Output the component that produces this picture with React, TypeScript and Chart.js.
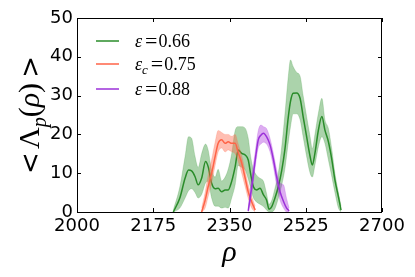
import React, { useEffect, useRef } from 'react';
import { Chart, registerables } from 'chart.js';
Chart.register(...registerables);

// ε = 0.66
const rhoA = [2221, 2236, 2248, 2256, 2263, 2271, 2278, 2286, 2295, 2301, 2309, 2317, 2324, 2332, 2340, 2347, 2355, 2363, 2370, 2378, 2386, 2393, 2399, 2405, 2412, 2420, 2428, 2435, 2441, 2447, 2454, 2462, 2470, 2477, 2485, 2490, 2496, 2504, 2512, 2519, 2527, 2535, 2540, 2546, 2554, 2562, 2569, 2577, 2585, 2592, 2600, 2606];
const meanA = [0, 3.6, 8.7, 10.8, 10.6, 9.1, 7, 8.7, 13, 11.7, 7.4, 6, 6.1, 5.2, 5.7, 5.7, 7.9, 11.7, 16, 15.1, 14.7, 13.4, 9.5, 6.5, 5.7, 6.1, 4.4, 3.1, 0.7, 1.4, 3.5, 6.5, 10.8, 16, 24.5, 28.5, 30.6, 30.7, 29.3, 24.6, 19.4, 14.3, 12.1, 15.1, 21.1, 24.6, 21.1, 18.1, 13.4, 8.2, 3.9, 0.5];
const upperA = [0.5, 6.5, 14.3, 19.4, 19, 14.3, 11.5, 15, 17.5, 16, 10.8, 9, 11, 8, 9, 11, 15, 21, 22, 22, 21.6, 19, 14, 11, 9.5, 8.7, 7.9, 4.8, 2, 3, 6, 10, 17, 25, 35, 39.2, 37.5, 36, 35, 30, 24.6, 19.4, 16.3, 20, 25.5, 29.3, 23.8, 21.5, 16, 10, 5, 1.5];
const lowerA = [0, 1, 3.6, 5.5, 6, 5, 3.6, 4.5, 7.5, 7.9, 3.6, 1.5, 1.5, 1, 1.2, 1, 3.6, 7, 12, 11.5, 10.8, 8.5, 6, 3.6, 2.6, 2, 1.4, 0.5, 0, 0, 0.8, 3.5, 7, 11, 18, 22, 25.3, 25.3, 23.8, 19.4, 14.3, 10, 9, 12, 16.8, 19.4, 17.7, 13.4, 9, 5, 1, 0];

// ε_c = 0.75
const rhoB = [2286, 2294, 2301, 2309, 2317, 2324, 2332, 2340, 2347, 2355, 2363, 2370, 2378, 2386, 2393, 2401, 2409];
const meanB = [0, 3, 6.5, 10, 14.3, 17.7, 18.6, 17.7, 18.1, 17.7, 17.7, 15.3, 12.6, 8.7, 5.2, 2.6, 0.5];
const upperB = [1, 5, 9.5, 13.5, 18, 21, 20.5, 20, 20, 19.5, 20, 17.5, 14.5, 10.5, 7, 4, 1.5];
const lowerB = [0, 1, 4, 7.5, 12, 15.5, 16.5, 15.5, 16, 15.5, 15, 13, 10, 6.5, 3.5, 1, 0];

// ε = 0.88
const rhoC = [2393, 2401, 2409, 2416, 2422, 2428, 2435, 2443, 2451, 2458, 2466, 2474, 2481, 2487];
const meanC = [0.3, 6.5, 13.4, 18.6, 19.8, 20.3, 19.4, 17.3, 13.4, 9.1, 5.2, 2.7, 1, 0.3];
const upperC = [1, 9, 15.5, 21, 22.4, 22, 21.5, 19, 15, 11, 7.5, 7, 3.5, 1];
const lowerC = [0, 4.5, 11.5, 16.5, 17.5, 18, 17.5, 15.5, 11.5, 7, 3, 1, 0, 0];

const xTicks = [2000, 2175, 2350, 2525, 2700];
const yTicks = [0, 10, 20, 30, 40, 50];

const seriesSym = ['ε', 'ε', 'ε'];
const seriesSub = ['', 'c', ''];
const seriesVal = ['0.66', '0.75', '0.88'];
const lineColors = ['#2a8c2a', '#ff6347', '#9b30d9'];
const bandColors = ['rgba(34,139,34,0.38)', 'rgba(255,99,71,0.42)', 'rgba(148,0,211,0.32)'];

const pts = (xs: number[], ys: number[]) => xs.map((x, i) => ({ x, y: ys[i] }));

function group(xs: number[], m: number[], u: number[], l: number[], i: number) {
  return [
    { data: pts(xs, m), borderColor: lineColors[i], borderWidth: 1.5, fill: false, pointRadius: 0, cubicInterpolationMode: 'monotone' },
    { data: pts(xs, u), borderColor: bandColors[i], backgroundColor: bandColors[i], borderWidth: 0.5, fill: '+1', pointRadius: 0, cubicInterpolationMode: 'monotone' },
    { data: pts(xs, l), borderColor: bandColors[i], borderWidth: 0.5, fill: false, pointRadius: 0, cubicInterpolationMode: 'monotone' },
  ];
}

const decor = {
  id: 'decor',
  afterDraw(chart: any) {
    const { ctx, chartArea, scales } = chart;
    const { left, right, top, bottom } = chartArea;
    ctx.save();
    ctx.strokeStyle = '#000';
    ctx.lineWidth = 1;
    ctx.strokeRect(left + 0.5, top + 0.5, right - left - 1, bottom - top);
    ctx.beginPath();
    xTicks.forEach((v) => {
      const p = Math.round(scales.x.getPixelForValue(v)) + 0.5;
      ctx.moveTo(p, bottom); ctx.lineTo(p, bottom - 4);
      ctx.moveTo(p, top); ctx.lineTo(p, top + 4);
    });
    yTicks.forEach((v) => {
      const p = Math.round(scales.y.getPixelForValue(v)) + 0.5;
      ctx.moveTo(left, p); ctx.lineTo(left + 4, p);
      ctx.moveTo(right, p); ctx.lineTo(right - 4, p);
    });
    ctx.stroke();

    // legend
    const ys = [41, 64, 89];
    ctx.textBaseline = 'alphabetic';
    ctx.fillStyle = '#000';
    for (let i = 0; i < 3; i++) {
      ctx.strokeStyle = lineColors[i];
      ctx.lineWidth = 1.5;
      ctx.beginPath();
      ctx.moveTo(96, ys[i]); ctx.lineTo(119, ys[i]);
      ctx.stroke();
      const base = ys[i] + 6;
      let x = 135;
      ctx.font = 'italic 18px "Liberation Serif"';
      ctx.fillText(seriesSym[i], x, base);
      x += ctx.measureText(seriesSym[i]).width;
      if (seriesSub[i]) {
        ctx.font = 'italic 13px "Liberation Serif"';
        ctx.fillText(seriesSub[i], x, base + 4);
        x += ctx.measureText(seriesSub[i]).width;
      }
      x += 3;
      ctx.font = '22px "Liberation Serif"';
      ctx.fillText('=', x, base + 1);
      x += ctx.measureText('=').width + 1;
      ctx.font = '18px "Liberation Serif"';
      ctx.fillText(seriesVal[i], x, base);
    }

    // y title
    const parts: [string, string, number][] = [
      ['<', '26px "DejaVu Sans"', 0],
      [' ', '10px "DejaVu Sans"', 0],
      ['Λ', '30px "Liberation Serif"', 0],
      ['p', 'italic 20px "Liberation Serif"', 7],
      ['(', '30px "Liberation Serif"', 0],
      ['ρ', 'italic 30px "Liberation Serif"', 0],
      [')', '30px "Liberation Serif"', 0],
      [' ', '16px "DejaVu Sans"', 0],
      ['>', '26px "DejaVu Sans"', 0],
    ];
    let total = 0;
    const widths = parts.map(([t, f]) => { ctx.font = f; const w = ctx.measureText(t).width; total += w; return w; });
    ctx.save();
    ctx.translate(29, (top + bottom) / 2);
    ctx.rotate(-Math.PI / 2);
    ctx.textBaseline = 'alphabetic';
    let cx = -total / 2;
    parts.forEach(([t, f, dy], i) => {
      ctx.font = f;
      ctx.fillText(t, cx, 10 + dy);
      cx += widths[i];
    });
    ctx.restore();

    // x title
    ctx.font = 'italic 30px "Liberation Serif"';
    ctx.textAlign = 'center';
    ctx.textBaseline = 'alphabetic';
    ctx.fillText('ρ', (left + right) / 2, 261);
    ctx.restore();
  },
};

export default function App() {
  const ref = useRef<HTMLCanvasElement>(null);
  useEffect(() => {
    document.body.style.margin = '0';
    const chart = new Chart(ref.current!, {
      type: 'line',
      data: {
        datasets: [
          ...group(rhoC, meanC, upperC, lowerC, 2),
          ...group(rhoB, meanB, upperB, lowerB, 1),
          ...group(rhoA, meanA, upperA, lowerA, 0),
        ] as any,
      },
      options: {
        animation: false,
        responsive: false,
        maintainAspectRatio: false,
        layout: { padding: { top: 18, right: 33, left: 0, bottom: 0 } },
        plugins: { legend: { display: false }, tooltip: { enabled: false } },
        scales: {
          x: {
            type: 'linear', min: 2000, max: 2700,
            afterBuildTicks: (s: any) => { s.ticks = xTicks.map((v) => ({ value: v })); },
            afterFit: (s: any) => { s.height = 65; },
            ticks: { autoSkip: false, maxRotation: 0, padding: 4, color: '#000', font: { family: 'DejaVu Sans', size: 18 }, callback: (v: any) => String(v) },
            grid: { display: false, drawTicks: false },
            border: { display: false },
          },
          y: {
            type: 'linear', min: 0, max: 50,
            afterBuildTicks: (s: any) => { s.ticks = yTicks.map((v) => ({ value: v })); },
            afterFit: (s: any) => { s.width = 77; },
            ticks: { autoSkip: false, padding: 4, color: '#000', font: { family: 'DejaVu Sans', size: 18 }, callback: (v: any) => String(v) },
            grid: { display: false, drawTicks: false },
            border: { display: false },
          },
        },
      },
      plugins: [decor],
    });
    return () => chart.destroy();
  }, []);
  return <canvas ref={ref} width={415} height={277} style={{ display: 'block' }} />;
}
